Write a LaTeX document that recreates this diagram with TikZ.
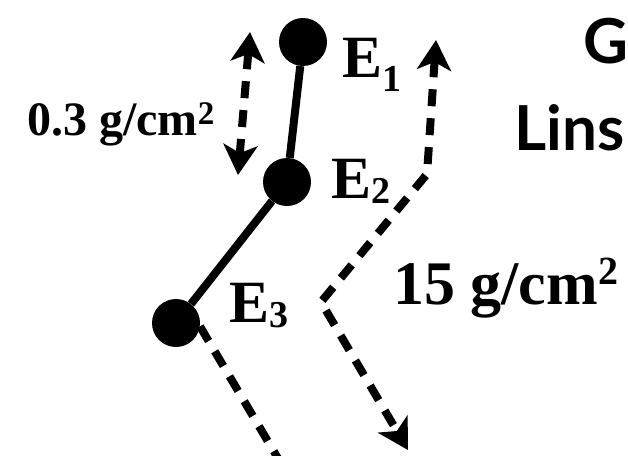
\documentclass[tikz,border=0pt]{standalone}
\usepackage{fontspec}
\setmainfont{Liberation Serif}
\newfontfamily\gillfont{Lato}
\usetikzlibrary{arrows.meta}

% sub- and superscripts at a fixed size
\newcommand{\lowsub}[2]{\raisebox{-#1}{\fontsize{38}{38}\selectfont #2}}
\newcommand{\highsup}[2]{\raisebox{#1}{\fontsize{#2}{#2}\selectfont 2}}

\tikzset{
  >={Stealth[length=30pt, width=34pt, inset=8pt]},
  dot/.style={circle, fill=black, inner sep=0pt, minimum size=48pt},
  rod/.style={line width=8pt},
  dashline/.style={line width=8pt, dash pattern=on 17pt off 12pt},
  elabel/.style={anchor=base west, inner sep=0pt, font=\fontsize{60}{60}\selectfont\bfseries},
  cut/.style={anchor=base west, inner sep=0pt, font=\fontsize{62}{62}\selectfont\gillfont\bfseries}
}

\begin{document}
\begin{tikzpicture}[x=1pt, y=-1pt]
\useasboundingbox (0,0) rectangle (628,455);
\clip (0,0) rectangle (628,455);

% the three points and the rods between them
\node[dot] (e1) at (303,42) {};
\node[dot] (e2) at (287,182) {};
\node[dot] (e3) at (176,323) {};
\draw[rod] (e1) -- (e2);
\draw[rod] (e2) -- (e3);

\node[elabel] (l1) at (342,77) {E\lowsub{14pt}{1}};
\node[elabel] (l2) at (331,198) {E\lowsub{5pt}{2}};
\node[elabel] (l3) at (229,322) {E\lowsub{5pt}{3}};

% spacing between the first two
\coordinate (dtop) at (250,32);
\coordinate (dbot) at (238,175);
\draw[dashline, <->] (dtop) -- (dbot);
\node[anchor=base west, inner sep=0pt, font=\fontsize{48}{48}\selectfont\bfseries] (thin) at (27,135) {0.3 g/cm\highsup{11pt}{33}};

% the long path
\coordinate (ptop) at (436,40);
\coordinate (pk1) at (427,174);
\coordinate (pk2) at (321,302);
\coordinate (pbot) at (408,450);
\draw[dashline, <->] (ptop) -- (pk1) -- (pk2) -- (pbot);
\node[anchor=base west, inner sep=0pt, font=\fontsize{62}{62}\selectfont\bfseries] (thick) at (393,304) {15 g/cm\highsup{20pt}{40}};

% track leaving the last point
\coordinate (e3end) at (286,472);
\draw[dashline] (e3.-8) -- (e3end);

% text cut off at the right edge
\node[cut] (gtxt) at (583,63) {G};
\node[cut] (ltxt) at (514,150) {Lins};
\end{tikzpicture}
\end{document}
